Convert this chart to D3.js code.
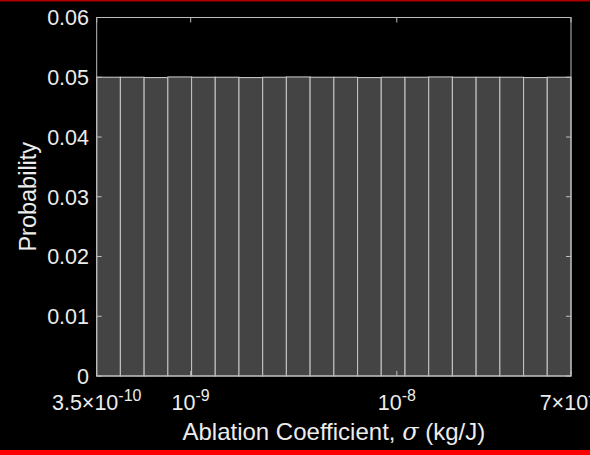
<!DOCTYPE html>
<html>
<head>
<meta charset="utf-8">
<script src="https://cdn.jsdelivr.net/npm/d3@7"></script>
<style>
  html, body { margin: 0; padding: 0; background: #000; overflow: hidden; }
  svg { display: block; }
  text { font-family: "Liberation Sans", Arial, Helvetica, sans-serif; fill: #ececec; }
</style>
</head>
<body>
<svg id="chart" width="590" height="455"></svg>
<script>
// Histogram bin edges (log-spaced, kg/J)
const binEdges = [
  3.5e-10, 4.561e-10, 5.945e-10, 7.748e-10, 1.010e-9, 1.316e-9, 1.715e-9,
  2.235e-9, 2.913e-9, 3.797e-9, 4.950e-9, 6.451e-9, 8.407e-9, 1.096e-8,
  1.428e-8, 1.861e-8, 2.426e-8, 3.162e-8, 4.121e-8, 5.370e-8, 7e-8
];
// Probability per bin
const probabilities = [
  0.05000, 0.05000, 0.04995, 0.05005, 0.05000, 0.05000, 0.04995, 0.05000, 0.05005, 0.05000,
  0.05000, 0.04995, 0.05000, 0.05000, 0.05005, 0.05000, 0.05000, 0.05000, 0.04995, 0.05000
];
// Axis ticks
const xTicks = [3.5e-10, 1e-9, 1e-8, 7e-8];
const xTickBase = ["3.5×10", "10", "10", "7×10"];
const xTickExp = ["-10", "-9", "-8", "-8"];
const yTicks = [0, 0.01, 0.02, 0.03, 0.04, 0.05, 0.06];
const yTickLabels = ["0", "0.01", "0.02", "0.03", "0.04", "0.05", "0.06"];

const svg = d3.select("#chart");
const W = 590, H = 455;
const plot = { left: 96.7, right: 571, top: 17.5, bottom: 376 };

svg.append("rect").attr("width", W).attr("height", H).attr("fill", "#000");

const x = d3.scaleLog().domain([binEdges[0], binEdges[binEdges.length - 1]]).range([plot.left, plot.right]);
const y = d3.scaleLinear().domain([0, 0.06]).range([plot.bottom, plot.top]);

const bins = probabilities.map((p, i) => ({ x0: binEdges[i], x1: binEdges[i + 1], p }));

// Bars
svg.append("g")
  .selectAll("rect")
  .data(bins)
  .join("rect")
  .attr("x", d => x(d.x0))
  .attr("y", d => y(d.p))
  .attr("width", d => x(d.x1) - x(d.x0))
  .attr("height", d => y(0) - y(d.p))
  .attr("fill", "#444444")
  .attr("stroke", "#c2c2c2")
  .attr("stroke-width", 1.1);

// Axis box
const axisColor = "#bdbdbd";
svg.append("rect")
  .attr("x", plot.left).attr("y", plot.top)
  .attr("width", plot.right - plot.left).attr("height", plot.bottom - plot.top)
  .attr("fill", "none").attr("stroke", axisColor).attr("stroke-width", 1);

// Inward ticks on all four sides
const tickLen = 5;
const tg = svg.append("g").attr("stroke", axisColor).attr("stroke-width", 1);
xTicks.forEach(v => {
  const px = x(v);
  tg.append("line").attr("x1", px).attr("x2", px).attr("y1", plot.bottom).attr("y2", plot.bottom - tickLen);
  tg.append("line").attr("x1", px).attr("x2", px).attr("y1", plot.top).attr("y2", plot.top + tickLen);
});
yTicks.forEach(v => {
  const py = y(v);
  tg.append("line").attr("x1", plot.left).attr("x2", plot.left + tickLen).attr("y1", py).attr("y2", py);
  tg.append("line").attr("x1", plot.right).attr("x2", plot.right - tickLen).attr("y1", py).attr("y2", py);
});

// Y tick labels
svg.append("g")
  .selectAll("text")
  .data(yTicks)
  .join("text")
  .attr("x", 89)
  .attr("y", d => y(d) + 7.8)
  .attr("text-anchor", "end")
  .attr("font-size", 21.5)
  .text((d, i) => yTickLabels[i]);

// X tick labels with superscript exponents
xTicks.forEach((v, i) => {
  const t = svg.append("text")
    .attr("x", x(v))
    .attr("y", 410)
    .attr("text-anchor", "middle")
    .attr("font-size", 21.5);
  t.append("tspan").text(xTickBase[i]);
  t.append("tspan").attr("dy", -9).attr("font-size", 16).text(xTickExp[i]);
});

// Axis titles
const xt = svg.append("text")
  .attr("x", (plot.left + plot.right) / 2)
  .attr("y", 440)
  .attr("text-anchor", "middle")
  .attr("font-size", 24);
xt.append("tspan").text("Ablation Coefficient, ");
xt.append("tspan").attr("font-family", "'DejaVu Serif', 'Liberation Serif', serif").attr("font-style", "italic").text("σ");
xt.append("tspan").text(" (kg/J)");

svg.append("text")
  .attr("transform", `translate(36,${(plot.top + plot.bottom) / 2}) rotate(-90)`)
  .attr("text-anchor", "middle")
  .attr("font-size", 23.5)
  .text("Probability");

// Frame accents
svg.append("rect").attr("x", 0).attr("y", 0).attr("width", W).attr("height", 1.5).attr("fill", "#b00000");
svg.append("rect").attr("x", 0).attr("y", 450).attr("width", W).attr("height", 5).attr("fill", "#ff0000");
</script>
</body>
</html>
